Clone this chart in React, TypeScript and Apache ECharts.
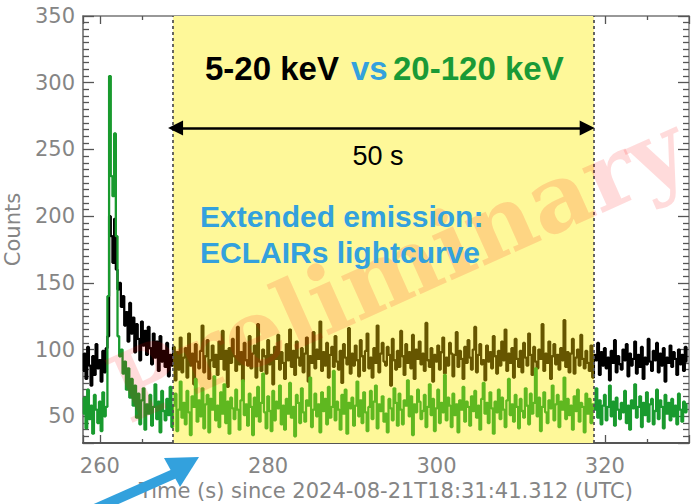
import React, { useEffect, useRef } from "react";
import * as echarts from "echarts";

// ECLAIRs lightcurve, 0.2 s bins starting at T0 (s since 2024-08-21T18:31:41.312 UTC)
const T0 = 258;
const BIN = 0.2;

// 5-20 keV counts per bin
const counts5to20 = [
  84, 97, 78, 102, 88, 73, 95, 81, 104, 86,
  92, 76, 99, 83, 101, 110, 200, 185, 165, 198,
  160, 145, 150, 132, 140, 118, 128, 106, 135, 112,
  124, 98, 119, 108, 92, 121, 103, 114, 96, 117,
  101, 89, 112, 94, 106, 84, 110, 91, 99, 87,
  105, 80, 96, 88, 102, 77, 98, 85, 109, 83,
  94, 101, 79, 112, 88, 97, 74, 104, 91, 86,
  99, 118, 83, 95, 107, 78, 92, 103, 87, 96,
  81, 106, 93, 114, 85, 99, 72, 101, 90, 108,
  95, 84, 117, 89, 98, 76, 105, 92, 88, 110,
  86, 97, 103, 79, 119, 91, 84, 100, 95, 82,
  107, 89, 96, 74, 102, 93, 111, 85, 98, 90,
  78, 104, 92, 115, 87, 99, 81, 106, 94, 88,
  101, 83, 97, 109, 76, 95, 90, 113, 86, 100,
  93, 121, 84, 98, 88, 105, 79, 96, 102, 87,
  110, 91, 85, 99, 75, 104, 94, 89, 116, 82,
  97, 88, 103, 92, 80, 107, 95, 84, 99, 112,
  86, 94, 79, 101, 90, 118, 83, 97, 105, 91,
  88, 102, 96, 73, 108, 92, 85, 99, 87, 114,
  95, 81, 104, 90, 98, 86, 111, 78, 100, 93,
  106, 89, 97, 84, 120, 92, 87, 101, 76, 96,
  91, 103, 85, 98, 109, 82, 94, 88, 105, 97,
  80, 96, 113, 87, 99, 93, 78, 102, 90, 107,
  94, 85, 100, 117, 83, 96, 104, 89, 92, 77,
  103, 91, 98, 86, 110, 95, 82, 99, 88, 106,
  92, 115, 84, 97, 90, 101, 79, 108, 93, 87,
  99, 83, 105, 94, 88, 112, 96, 81, 102, 91,
  86, 100, 93, 119, 84, 97, 90, 106, 78, 95,
  104, 89, 96, 85, 101, 92, 122, 87, 98, 83,
  97, 108, 82, 94, 100, 88, 111, 93, 86, 99,
  90, 84, 103, 79, 96, 92, 105, 81, 98, 88,
  101, 86, 94, 77, 99, 90, 107, 83, 95, 89,
  85, 100, 92, 104, 80, 97, 88, 93, 106, 82,
  96, 87, 102, 78, 94, 89, 108, 91, 84, 99,
  92, 105, 83, 97, 88, 101, 76, 94, 90, 103,
  87, 98, 93, 81, 100, 89, 96, 84, 102, 91,
];

// 20-120 keV counts per bin
const counts20to120 = [
  52, 64, 41, 70, 48, 58, 37, 66, 55, 45,
  61, 39, 68, 50, 57, 140, 305, 230, 215, 262,
  185, 110, 95, 100, 82, 91, 70, 86, 64, 78,
  58, 73, 49, 67, 44, 62, 71, 40, 59, 52,
  66, 43, 57, 74, 48, 61, 38, 69, 54, 47,
  63, 51, 72, 42, 58, 67, 39, 55, 76, 49,
  60, 44, 69, 53, 36, 65, 57, 78, 46, 62,
  50, 71, 41, 59, 66, 38, 63, 55, 80, 47,
  58, 42, 68, 52, 74, 45, 61, 37, 64, 56,
  48, 70, 55, 40, 62, 77, 51, 59, 43, 67,
  57, 36, 64, 50, 72, 46, 60, 82, 53, 41,
  65, 54, 39, 69, 47, 61, 56, 73, 44, 58,
  40, 63, 52, 75, 49, 57, 35, 66, 60, 45,
  71, 53, 46, 62, 58, 79, 42, 55, 67, 50,
  59, 38, 68, 54, 63, 44, 72, 49, 57, 84,
  47, 61, 55, 40, 66, 52, 70, 37, 60, 56,
  64, 43, 58, 76, 50, 62, 45, 68, 53, 39,
  57, 69, 48, 61, 73, 41, 59, 54, 65, 46,
  52, 38, 63, 56, 47, 71, 60, 43, 67, 55,
  44, 62, 58, 77, 50, 65, 36, 59, 53, 70,
  61, 48, 54, 66, 42, 57, 74, 51, 63, 39,
  56, 70, 45, 60, 53, 81, 47, 64, 58, 42,
  67, 51, 59, 38, 62, 55, 72, 46, 61, 57,
  43, 65, 54, 69, 49, 58, 40, 63, 75, 52,
  60, 45, 68, 56, 37, 61, 53, 70, 48, 64,
  55, 42, 62, 78, 51, 59, 46, 66, 57, 41,
  63, 54, 49, 71, 58, 44, 67, 52, 60, 86,
  50, 64, 39, 57, 68, 53, 45, 62, 56, 73,
  47, 59, 66, 42, 61, 55, 79, 48, 63, 51,
  58, 40, 65, 54, 70, 46, 60, 57, 38, 67,
  52, 63, 45, 59, 55, 71, 49, 62, 44, 58,
  66, 47, 57, 73, 50, 61, 43, 64, 55, 48,
  60, 53, 69, 45, 58, 40, 62, 56, 74, 49,
  57, 65, 42, 60, 51, 68, 46, 59, 63, 44,
  54, 70, 48, 62, 57, 41, 66, 52, 60, 47,
  63, 50, 58, 44, 67, 55, 46, 61, 53, 59,
];

// axis ranges
const xRange = [258, 330];
const yRange = [30, 350];

// extended-emission window (50 s) and its arrow
const windowStart = 268.7;
const windowEnd = 318.7;
const arrowFrom = 269.0;
const arrowTo = 317.9;
const arrowLevel = 266;

const X_NAME = "Time (s) since 2024-08-21T18:31:41.312 (UTC)";
const Y_NAME = "Counts";

const times = counts5to20.map((_, i) => +(T0 + i * BIN).toFixed(1));

const AXIS_FONT = "DejaVu Sans";
const AXIS_TEXT = "#858585";
const BLUE = "#33a1dd";

function bandPieces(outside: string, inside: string) {
  return [
    { lt: windowStart, color: outside },
    { gte: windowStart, lte: windowEnd, color: inside },
    { gt: windowEnd, color: outside },
  ];
}

export default function App() {
  const ref = useRef<HTMLDivElement>(null);

  useEffect(() => {
    if (!ref.current) return;
    const chart = echarts.init(ref.current, null, { renderer: "svg" });

    const tickStyle = { color: "#555", width: 1.3 };
    const baseX = {
      type: "value" as const,
      min: xRange[0],
      max: xRange[1],
      splitNumber: 3,
      splitLine: { show: false },
      axisTick: { inside: true, length: 8, lineStyle: tickStyle },
      minorTick: { show: true, splitNumber: 4, length: 4, lineStyle: tickStyle },
    };
    const baseY = {
      type: "value" as const,
      min: yRange[0],
      max: yRange[1],
      splitNumber: 7,
      splitLine: { show: false },
      axisTick: { inside: true, length: 11, lineStyle: tickStyle },
      minorTick: { show: true, splitNumber: 10, length: 6, lineStyle: tickStyle },
    };

    chart.setOption({
      animation: false,
      grid: {
        left: 83,
        right: 4,
        top: 16,
        bottom: 61,
        containLabel: false,
        outerBoundsMode: "none",
      },
      xAxis: [
        {
          ...baseX,
          position: "bottom",
          name: X_NAME,
          nameLocation: "middle",
          nameGap: 36,
          nameTextStyle: { fontFamily: AXIS_FONT, fontSize: 21, color: AXIS_TEXT },
          axisLine: { lineStyle: { color: "#555", width: 2 } },
          axisLabel: {
            fontFamily: AXIS_FONT,
            fontSize: 21,
            color: AXIS_TEXT,
            margin: 12,
            showMinLabel: false,
            showMaxLabel: false,
          },
        },
        {
          ...baseX,
          position: "top",
          axisLine: { lineStyle: { color: "#777", width: 1.5 } },
          axisLabel: { show: false },
        },
      ],
      yAxis: [
        {
          ...baseY,
          position: "left",
          name: Y_NAME,
          nameLocation: "middle",
          nameGap: 60,
          nameTextStyle: { fontFamily: AXIS_FONT, fontSize: 21, color: AXIS_TEXT },
          axisLine: { show: true, lineStyle: { color: "#666", width: 1.5 } },
          axisLabel: {
            fontFamily: AXIS_FONT,
            fontSize: 21,
            color: AXIS_TEXT,
            margin: 8,
            showMinLabel: false,
          },
        },
        {
          ...baseY,
          position: "right",
          axisLine: { show: true, lineStyle: { color: "#888", width: 1.5 } },
          axisLabel: { show: false },
        },
      ],
      visualMap: [
        {
          type: "piecewise",
          show: false,
          seriesIndex: 0,
          dimension: 0,
          pieces: bandPieces("#000000", "#665600"),
        },
        {
          type: "piecewise",
          show: false,
          seriesIndex: 1,
          dimension: 0,
          pieces: bandPieces("#199a2e", "#5fb820"),
        },
      ],
      series: [
        {
          name: "5-20 keV",
          type: "line",
          step: "middle",
          showSymbol: false,
          symbol: "none",
          clip: true,
          lineStyle: { width: 2.3 },
          data: times.map((t, i) => [t, counts5to20[i]]),
          markArea: {
            silent: true,
            itemStyle: { color: "#fef899" },
            data: [[{ xAxis: windowStart }, { xAxis: windowEnd }]],
          },
          markLine: {
            silent: true,
            symbol: "none",
            label: { show: false },
            lineStyle: { color: "#555", width: 1.8, type: [3, 3] },
            data: [{ xAxis: windowStart }, { xAxis: windowEnd }],
          },
        },
        {
          name: "20-120 keV",
          type: "line",
          step: "middle",
          showSymbol: false,
          symbol: "none",
          clip: true,
          lineStyle: { width: 2.3 },
          data: times.map((t, i) => [t, counts20to120[i]]),
          markLine: {
            silent: true,
            symbol: ["triangle", "triangle"],
            symbolSize: [15, 15],
            label: { show: false },
            lineStyle: { color: "#000", width: 2.5, type: "solid" },
            itemStyle: { color: "#000" },
            data: [[{ coord: [arrowFrom, arrowLevel] }, { coord: [arrowTo, arrowLevel] }]],
          },
        },
      ],
      graphic: [
        {
          type: "text",
          x: 398,
          y: 268,
          rotation: 0.42,
          z: 100,
          silent: true,
          style: {
            text: "Preliminary",
            fontFamily: "DejaVu Serif",
            fontWeight: "bold",
            fontSize: 94,
            fill: "rgba(255, 0, 0, 0.14)",
            align: "center",
            verticalAlign: "middle",
          },
        },
        {
          type: "text",
          x: 205,
          y: 68,
          z: 110,
          style: {
            text: "5-20 keV",
            fontFamily: "Liberation Sans",
            fontWeight: "bold",
            fontSize: 33,
            fill: "#000",
            verticalAlign: "middle",
          },
        },
        {
          type: "text",
          x: 351,
          y: 68,
          z: 110,
          style: {
            text: "vs",
            fontFamily: "Liberation Sans",
            fontWeight: "bold",
            fontSize: 33,
            fill: BLUE,
            verticalAlign: "middle",
          },
        },
        {
          type: "text",
          x: 393,
          y: 68,
          z: 110,
          style: {
            text: "20-120 keV",
            fontFamily: "Liberation Sans",
            fontWeight: "bold",
            fontSize: 33,
            fill: "#1a9a36",
            verticalAlign: "middle",
          },
        },
        {
          type: "text",
          x: 378,
          y: 156,
          z: 110,
          style: {
            text: "50 s",
            fontFamily: "Liberation Sans",
            fontSize: 27,
            fill: "#000",
            align: "center",
            verticalAlign: "middle",
          },
        },
        {
          type: "text",
          x: 200,
          y: 216,
          z: 110,
          style: {
            text: "Extended emission:",
            fontFamily: "Liberation Sans",
            fontWeight: "bold",
            fontSize: 30,
            fill: BLUE,
            verticalAlign: "middle",
          },
        },
        {
          type: "text",
          x: 200,
          y: 252,
          z: 110,
          style: {
            text: "ECLAIRs lightcurve",
            fontFamily: "Liberation Sans",
            fontWeight: "bold",
            fontSize: 30,
            fill: BLUE,
            verticalAlign: "middle",
          },
        },
        {
          type: "line",
          z: 110,
          silent: true,
          shape: { x1: 70, y1: 520, x2: 176, y2: 473 },
          style: { stroke: BLUE, lineWidth: 10 },
        },
        {
          type: "polygon",
          z: 110,
          silent: true,
          shape: { points: [[199, 457], [164, 458], [180, 487]] },
          style: { fill: BLUE },
        },
      ],
    });

    return () => chart.dispose();
  }, []);

  return (
    <div
      ref={ref}
      style={{ position: "fixed", left: 0, top: 0, width: 693, height: 504, background: "#fff" }}
    />
  );
}
